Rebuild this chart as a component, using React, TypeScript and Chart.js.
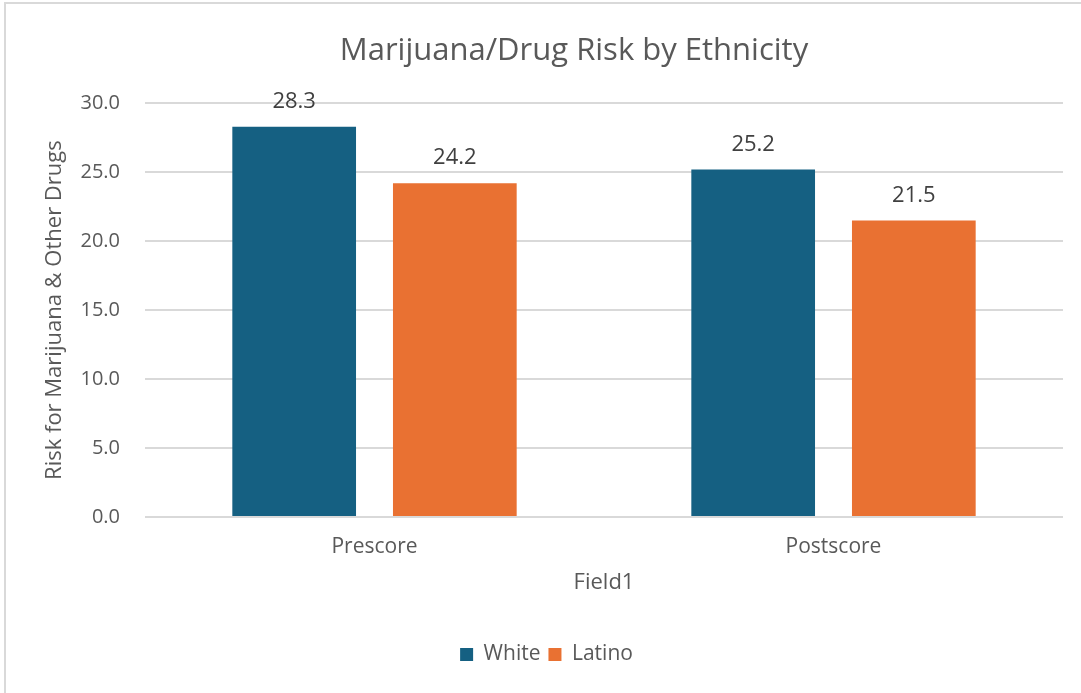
import React, { useEffect, useRef } from "react";
import { Chart, registerables } from "chart.js";

Chart.register(...registerables);

const categories = ["Prescore", "Postscore"];
const seriesNames = ["White", "Latino"];
const whiteValues = [28.3, 25.2];
const latinoValues = [24.2, 21.5];
const colors = ["#156082", "#E97132"];
const titleText = "Marijuana/Drug Risk by Ethnicity";
const yTitle = "Risk for Marijuana & Other Drugs";
const xTitle = "Field1";

const FONT = "'Open Sans', 'Noto Sans', sans-serif";
const TEXT = "#595959";

const dataLabels = {
  id: "dataLabels",
  afterDatasetsDraw(chart: any) {
    const ctx = chart.ctx;
    ctx.save();
    ctx.font = `22px ${FONT}`;
    ctx.fillStyle = "#404040";
    ctx.textAlign = "center";
    ctx.textBaseline = "middle";
    chart.data.datasets.forEach((ds: any, i: number) => {
      const meta = chart.getDatasetMeta(i);
      meta.data.forEach((bar: any, j: number) => {
        ctx.fillText(Number(ds.data[j]).toFixed(1), bar.x, bar.y - 25);
      });
    });
    ctx.restore();
  },
};

const frame = {
  id: "frame",
  beforeDraw(chart: any) {
    const ctx = chart.ctx;
    ctx.save();
    ctx.fillStyle = "#ffffff";
    ctx.fillRect(0, 0, chart.width, chart.height);
    ctx.strokeStyle = "#d9d9d9";
    ctx.lineWidth = 2;
    ctx.beginPath();
    ctx.moveTo(5, chart.height);
    ctx.lineTo(5, 3);
    ctx.lineTo(chart.width, 3);
    ctx.stroke();
    ctx.restore();
  },
};

const centeredTitle = {
  id: "centeredTitle",
  afterDraw(chart: any) {
    const ctx = chart.ctx;
    ctx.save();
    ctx.font = `31px ${FONT}`;
    ctx.fillStyle = TEXT;
    ctx.textAlign = "center";
    ctx.textBaseline = "middle";
    ctx.fillText(titleText, 574, 51);
    ctx.restore();
  },
};

export default function App() {
  const ref = useRef<HTMLCanvasElement | null>(null);
  useEffect(() => {
    document.body.style.margin = "0";
    const chart = new Chart(ref.current as HTMLCanvasElement, {
      type: "bar",
      data: {
        labels: categories,
        datasets: [
          { label: seriesNames[0], data: whiteValues, backgroundColor: colors[0] },
          { label: seriesNames[1], data: latinoValues, backgroundColor: colors[1] },
        ],
      },
      options: {
        animation: false,
        responsive: false,
        devicePixelRatio: 1,
        layout: { padding: { top: 0, left: 30, right: 18, bottom: 18 } },
        datasets: { bar: { categoryPercentage: 0.7, barPercentage: 0.77 } },
        plugins: {
          title: {
            display: true,
            text: titleText,
            color: "rgba(0,0,0,0)",
            font: { family: FONT, size: 31, weight: "normal" },
            padding: { top: 32, bottom: 34 },
          },
          legend: {
            position: "bottom",
            labels: {
              color: TEXT,
              font: { family: FONT, size: 21 },
              boxWidth: 13,
              boxHeight: 13,
              padding: 8,
            },
          },
          tooltip: { enabled: false },
        },
        scales: {
          x: {
            grid: { display: false, drawTicks: false, tickLength: 0 },
            border: { display: false },
            ticks: { color: TEXT, font: { family: FONT, size: 21 }, padding: 17 },
            title: {
              display: true,
              text: xTitle,
              color: TEXT,
              font: { family: FONT, size: 22 },
              padding: { top: 0, bottom: 40 },
            },
            afterFit: (s: any) => {
              s.height = 119;
            },
          },
          y: {
            min: 0,
            max: 30,
            ticks: {
              stepSize: 5,
              color: TEXT,
              font: { family: FONT, size: 20 },
              padding: 25,
              callback: (v: any) => Number(v).toFixed(1),
            },
            grid: { color: "#d9d9d9", lineWidth: 2, drawTicks: false },
            border: { display: false },
            title: {
              display: true,
              text: yTitle,
              color: TEXT,
              font: { family: FONT, size: 22 },
              padding: { top: 12, bottom: 0 },
            },
            afterFit: (s: any) => {
              s.width = 115;
            },
          },
        },
      },
      plugins: [frame, dataLabels, centeredTitle],
    } as any);
    return () => chart.destroy();
  }, []);
  return <canvas ref={ref} width={1081} height={693} style={{ display: "block" }} />;
}
